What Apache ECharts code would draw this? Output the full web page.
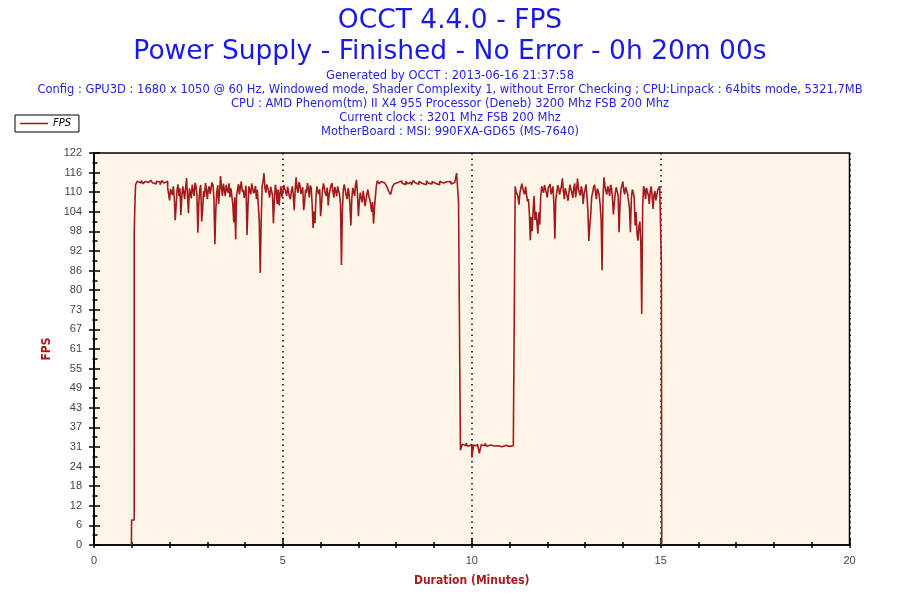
<!DOCTYPE html>
<html>
<head>
<meta charset="utf-8">
<script src="https://cdn.jsdelivr.net/npm/echarts@6.0.0/dist/echarts.min.js"></script>
<style>
  html, body { margin: 0; padding: 0; background: #fff; }
  #main { width: 900px; height: 600px; }
</style>
</head>
<body>
<div id="main"></div>
<script>
var titleLines = ['OCCT 4.4.0 - FPS', 'Power Supply - Finished - No Error - 0h 20m 00s'];
var infoLines = [
  'Generated by OCCT : 2013-06-16 21:37:58',
  'Config : GPU3D : 1680 x 1050 @ 60 Hz, Windowed mode, Shader Complexity 1, without Error Checking ; CPU:Linpack : 64bits mode, 5321,7MB',
  'CPU : AMD Phenom(tm) II X4 955 Processor (Deneb) 3200 Mhz FSB 200 Mhz',
  'Current clock : 3201 Mhz FSB 200 Mhz',
  'MotherBoard : MSI: 990FXA-GD65 (MS-7640)'
];
var yTickLabels = ['0', '6', '12', '18', '24', '31', '37', '43', '49', '55', '61',
  '67', '73', '80', '86', '92', '98', '104', '110', '116', '122'];
var xTickLabels = ['0', '5', '10', '15', '20'];

// each block: start time (minutes) and sample spacing (minutes)
var blockStarts = [1.10, 2.00, 4.90, 7.50, 9.70, 11.15];
var blockSteps = [0.05, 0.025, 0.025, 0.05, 0.05, 0.025];

var fpsWarmup = [112.5, 113.6, 113.0, 113.8, 112.8, 113.5, 113.2, 112.6, 113.9, 113.1,
  112.7, 113.6, 113.3, 112.5, 113.8, 113.0, 113.6, 111.5];
var fpsNoisyA = [107.6, 111.2, 110.8, 109.3, 112, 108.4, 101.4, 106.2, 111, 112.6,
  109, 111.4, 103, 108.8, 112, 110.2, 108, 111.7, 114.6, 109.1,
  103.6, 111.3, 110, 108.2, 112.5, 110.6, 109, 113.1, 112, 109.4,
  97.5, 106.8, 111, 112.4, 101, 104.5, 110.5, 108.7, 113, 111.2,
  108, 110.9, 112, 109.6, 110, 113.2, 112.5, 108.1, 93.9, 104.8,
  110, 112.3, 106.5, 110.4, 115.2, 111.6, 109, 112.8, 111, 108.9,
  112.5, 110.7, 110, 112.9, 108.5, 111.4, 112, 106.3, 100.7, 108.6,
  95.4, 109.2, 111, 112.7, 109.5, 111.8, 113.5, 110.3, 111, 108.4,
  110, 112.2, 96.8, 105.5, 112, 110.6, 109.5, 112.9, 113, 109.8,
  110.5, 112.1, 108, 110.9, 111, 101.2, 84.9, 100.8, 112, 113.4,
  116.1, 111.5, 110, 112.6, 113, 110.2, 108.5, 111.9, 111.5, 109.3,
  100.4, 107.7, 112.5, 110.8, 106.5, 111];
var fpsNoisyB = [106, 109.8, 112, 108.6, 110.5, 112.4, 113, 110.1, 109, 111.9,
  111.5, 108.7, 108, 110.6, 112, 109.3, 104.5, 110.8, 114.8, 111.2,
  110, 113.3, 112.5, 109.6, 109, 111.7, 104.5, 106.9, 111, 109.9,
  113, 111.3, 108.5, 112.2, 111.5, 106.4, 99, 104.1, 100.5, 108.3,
  112, 110.4, 109.5, 111.1, 102.7, 106.8, 111, 112.9, 112.5, 109.7,
  109, 111.6, 106, 109.4, 111, 112.3, 113, 110.5, 108.5, 111.8,
  110.5, 108.9, 112, 110.7, 109.5, 106.6, 87.4, 104.3, 111, 112.6,
  112.5, 109.2, 108, 111.4, 110, 106.1, 99.8, 108.2, 111.5, 110.3,
  109, 112.7, 114, 109.5, 102.7, 107.4, 110, 108.3, 107, 110.6,
  108.5, 105.8, 106, 109.7, 111, 108.8, 108, 106.2, 104, 107.1,
  100.3, 105.2, 109, 112.1];
var fpsSteady = [113.8, 112.8, 113.5, 113.0, 112.4, 112.0, 110.5, 109.4, 111.8, 112.8,
  113.2, 112.6, 113.7, 113.0, 112.5, 113.6, 112.8, 113.3, 112.4, 113.8,
  113.1, 112.6, 113.5, 112.9, 113.4, 112.5, 113.7, 113.0, 112.7, 113.5,
  112.9, 113.3, 112.5, 113.6, 113.0, 112.6, 113.4, 112.8, 113.5, 112.7,
  113.2, 112.6, 116.1, 107];
var fpsLow = [29.6, 31.5, 31.0, 31.8, 30.8, 31.4, 27.3, 31.2, 30.9, 31.6,
  28.6, 31.3, 31.0, 31.7, 30.8, 31.2, 31.5, 30.9, 31.4, 31.0,
  31.6, 30.7, 31.3, 31.1, 31.5, 30.8, 31.4, 31.0, 30.6];
var fpsNoisyC = [112, 110.4, 111, 108.7, 106.3, 109.9, 110, 112.8, 112.5, 110.2,
  109.5, 111.9, 111.5, 107.3, 108, 103.6, 95.2, 102.4, 98, 104.7,
  109, 101.5, 104, 100.8, 97.2, 103.9, 100, 108.6, 112, 110.9,
  110, 112.4, 113, 109.8, 108.5, 111.6, 111, 112.7, 109.5, 110.6,
  112, 106.2, 95.6, 107.8, 110, 112.3, 111.5, 109.4, 109, 112.1,
  114.5, 110.7, 108, 111.4, 111, 108.9, 107.5, 110.3, 112.5, 111.1,
  110, 108.4, 111.5, 112.9, 108.5, 110.8, 114.4, 111.2, 110, 109.1,
  112, 110.5, 106.5, 109.6, 111, 112.6, 109, 104.2, 94.9, 99.6,
  103.2, 108.7, 110, 111.8, 112.5, 110.1, 108, 111.3, 110.5, 109.2,
  106, 101.7, 85.8, 108.5, 114.8, 112.2, 110.5, 109.4, 112, 110.8,
  109, 112.5, 111.5, 108.3, 103.2, 106.9, 110, 111.7, 112, 109.1,
  97.7, 106.4, 111, 112.3, 113.5, 110.6, 109.5, 111.8, 112, 109.7,
  110, 105.2, 97.7, 108.1, 111, 110.2, 108.5, 99.8, 104, 97.3,
  95, 99.4, 101, 94.6, 72.1, 105.8, 112, 110.9, 108, 111.5,
  111, 109.2, 106.5, 110.4, 112, 108.8, 104.9, 109.5, 110.5, 107.6,
  108, 110.9, 111, 112];

// start-up and shut-down edges, [minutes, fps]
var rampIn = [[0.99, 0], [0.995, 7.8], [1.03, 7.8], [1.065, 97.7], [1.08, 105]];
var rampOut = [[15.02, 88], [15.025, 39], [15.03, 0]];

var blocks = [fpsWarmup, fpsNoisyA, fpsNoisyB, fpsSteady, fpsLow, fpsNoisyC];

var buildSeries = function () {
  var pts = rampIn.slice();
  blocks.forEach(function (block, b) {
    block.forEach(function (v, i) {
      pts.push([+(blockStarts[b] + i * blockSteps[b]).toFixed(4), v]);
    });
  });
  return pts.concat(rampOut);
};

var titleColor = '#1818ea';
var infoColor = '#2424e0';
var nameColor = '#a81c1c';
var lineColor = '#a31a1a';
var tickFont = 'Liberation Sans';
var textFont = 'DejaVu Sans';

var graphics = [];
var titleY = [21, 52];
titleLines.forEach(function (t, i) {
  graphics.push({
    type: 'text', x: 450, y: titleY[i],
    style: { text: t, fill: titleColor, font: '26.5px "' + textFont + '"', align: 'center', verticalAlign: 'middle' }
  });
});
infoLines.forEach(function (t, i) {
  graphics.push({
    type: 'text', x: 450, y: 76 + i * 14,
    style: { text: t, fill: infoColor, font: '11.5px "' + textFont + '"', align: 'center', verticalAlign: 'middle' }
  });
});

var yMax = 122.4;
var yStep = 6.12;
var yLabel = function (v) {
  return yTickLabels[Math.round(v / yStep)];
};
var xLabel = function (v) {
  return xTickLabels[Math.round(v / 5)];
};

var blackLine = { color: '#000', width: 1.5 };

var option = {
  animation: false,
  backgroundColor: '#fff',
  graphic: graphics,
  legend: {
    left: 15, top: 115,
    padding: [3, 8, 3, 5],
    borderColor: '#000', borderWidth: 1,
    itemWidth: 28, itemHeight: 1.5, itemGap: 5,
    icon: 'rect',
    textStyle: { fontStyle: 'italic', fontSize: 11, color: '#000', fontFamily: 'DejaVu Sans Condensed' },
    data: ['FPS']
  },
  grid: {
    left: 94, top: 153, right: 50.5, bottom: 55,
    show: true, backgroundColor: '#fdf6e8',
    borderColor: '#000', borderWidth: 1.5
  },
  xAxis: [{
    type: 'value', min: 0, max: 20, interval: 5,
    axisLine: { show: true, lineStyle: blackLine },
    axisTick: { show: true, length: 3, lineStyle: blackLine },
    minorTick: { show: true, splitNumber: 5, length: 3, lineStyle: blackLine },
    axisLabel: { formatter: xLabel, color: '#444', fontSize: 11, fontFamily: tickFont, margin: 10 },
    splitLine: { show: true, lineStyle: { color: '#000', width: 1.5, type: [1.5, 4] } },
    name: 'Duration (Minutes)', nameLocation: 'middle', nameGap: 30,
    nameTextStyle: { color: nameColor, fontWeight: 'bold', fontSize: 12, fontFamily: 'DejaVu Sans Condensed' }
  }, {
    type: 'value', min: 0, max: 20, interval: 5, position: 'bottom',
    axisLine: { show: false },
    axisTick: { show: true, inside: true, length: 7, lineStyle: blackLine },
    minorTick: { show: true, splitNumber: 5, length: 3, lineStyle: blackLine },
    axisLabel: { show: false },
    splitLine: { show: false }
  }],
  yAxis: [{
    type: 'value', min: 0, max: yMax, interval: yStep,
    axisLine: { show: true, lineStyle: blackLine },
    axisTick: { show: true, length: 5, lineStyle: blackLine },
    minorTick: { show: true, splitNumber: 2, length: 1.5, lineStyle: blackLine },
    axisLabel: { formatter: yLabel, color: '#444', fontSize: 11, fontFamily: tickFont, margin: 12 },
    splitLine: { show: false },
    name: 'FPS', nameLocation: 'middle', nameGap: 36,
    nameTextStyle: { color: nameColor, fontWeight: 'bold', fontSize: 12, fontFamily: 'DejaVu Sans Condensed' }
  }, {
    type: 'value', min: 0, max: yMax, interval: yStep, position: 'left',
    axisLine: { show: false },
    axisTick: { show: true, inside: true, length: 6, lineStyle: blackLine },
    minorTick: { show: true, splitNumber: 2, length: 3.5, lineStyle: blackLine },
    axisLabel: { show: false },
    splitLine: { show: false }
  }],
  series: [{
    name: 'FPS',
    type: 'line',
    step: 'end',
    xAxisIndex: 0, yAxisIndex: 0,
    symbol: 'none',
    data: buildSeries(),
    lineStyle: { color: lineColor, width: 1.6 },
    itemStyle: { color: lineColor },
    z: 3
  }]
};

var chart = echarts.init(document.getElementById('main'));
chart.setOption(option);
</script>
</body>
</html>
